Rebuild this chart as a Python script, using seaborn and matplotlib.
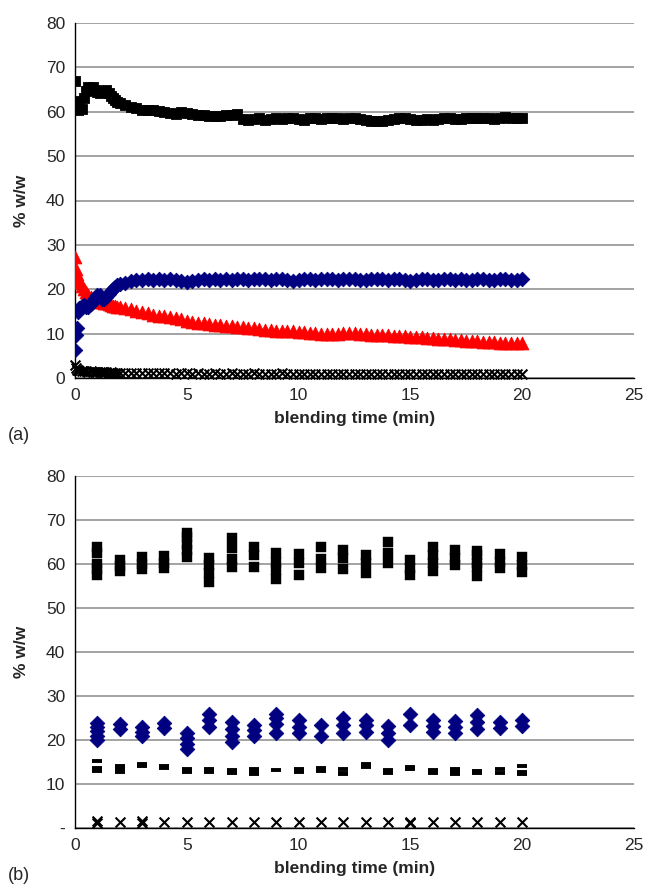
import matplotlib
matplotlib.use("Agg")

import matplotlib.pyplot as plt
import numpy as np
import pandas as pd
import seaborn as sns

# ---- panel (a): continuous monitoring ----
time_a = [0, 0.05, 0.1, 0.15, 0.2, 0.3, 0.4, 0.5, 0.6, 0.7, 0.8, 0.9, 1.0, 1.1, 1.2,
          1.3, 1.4, 1.5, 1.6, 1.7, 1.8, 1.9, 2.0,
          2.25, 2.5, 2.75, 3.0, 3.25, 3.5, 3.75, 4.0, 4.25, 4.5, 4.75, 5.0, 5.25, 5.5,
          5.75, 6.0, 6.25, 6.5, 6.75, 7.0, 7.25, 7.5, 7.75, 8.0, 8.25, 8.5, 8.75, 9.0,
          9.25, 9.5, 9.75, 10.0, 10.25, 10.5, 10.75, 11.0, 11.25, 11.5, 11.75, 12.0,
          12.25, 12.5, 12.75, 13.0, 13.25, 13.5, 13.75, 14.0, 14.25, 14.5, 14.75, 15.0,
          15.25, 15.5, 15.75, 16.0, 16.25, 16.5, 16.75, 17.0, 17.25, 17.5, 17.75, 18.0,
          18.25, 18.5, 18.75, 19.0, 19.25, 19.5, 19.75, 20.0]

square_a = [67.0, 62.5, 61.0, 60.5, 62.0, 60.6, 63.0, 64.6, 65.5, 65.3, 65.5, 65.0, 64.5,
            64.3, 64.6, 64.5, 64.8, 64.2, 63.6, 63.0, 62.6, 62.2, 62.0,
            61.6, 61.1, 60.8, 60.5, 60.3, 60.4, 60.2, 60.0,
            59.7, 59.6, 59.9, 59.7, 59.4, 59.2, 59.3, 59.0,
            59.1, 59.0, 59.3, 59.2, 59.5, 58.4, 58.1, 58.3,
            58.5, 58.2, 58.4, 58.6, 58.3, 58.5, 58.7, 58.4,
            58.2, 58.5, 58.6, 58.4, 58.7, 58.5, 58.6, 58.4,
            58.6, 58.5, 58.3, 58.2, 58.0, 57.9, 58.0, 58.2,
            58.4, 58.6, 58.5, 58.3, 58.2, 58.1, 58.3, 58.2,
            58.4, 58.6, 58.5, 58.3, 58.4, 58.6, 58.5, 58.6,
            58.7, 58.5, 58.4, 58.6, 58.8, 58.7, 58.6, 58.5]

diamond_a = [6.2, 9.8, 11.2, 14.8, 15.8, 16.3, 16.4, 16.0, 16.1, 16.6, 17.3, 18.0, 18.7,
             18.6, 17.8, 17.7, 18.3, 19.0, 19.6, 20.1, 20.5, 20.9, 21.2,
             21.5, 21.8, 22.0, 22.1, 22.2, 22.0, 22.3, 22.1,
             22.2, 22.0, 21.8, 21.7, 21.9, 22.1, 22.2, 22.0,
             22.3, 22.1, 22.2, 22.0, 22.2, 22.3, 22.1, 22.2,
             22.4, 22.2, 22.1, 22.3, 22.2, 22.0, 21.8, 22.0,
             22.2, 22.3, 22.1, 22.2, 22.4, 22.3, 22.1, 22.2,
             22.3, 22.2, 22.0, 22.1, 22.3, 22.4, 22.2, 22.1,
             22.3, 22.2, 22.0, 21.9, 22.1, 22.2, 22.3, 22.1,
             22.0, 22.2, 22.3, 22.1, 22.2, 22.0, 22.1, 22.3,
             22.2, 22.1, 22.0, 22.2, 22.3, 22.1, 22.0, 22.2]

triangle_a = [27.3, 24.5, 23.5, 22.5, 21.5, 20.8, 20.0, 19.3, 18.8, 18.3, 17.9, 17.6, 17.4,
              17.2, 17.1, 17.0, 16.9, 16.7, 16.5, 16.3, 16.2, 16.0, 15.9,
              15.7, 15.5, 15.2, 14.9, 14.6, 14.3, 14.0, 13.9,
              13.7, 13.5, 13.3, 12.8, 12.6, 12.5, 12.3, 12.1,
              12.0, 11.9, 11.8, 11.7, 11.6, 11.5, 11.3, 11.2,
              11.0, 10.9, 10.8, 10.7, 10.6, 10.6, 10.5, 10.4,
              10.3, 10.2, 10.1, 10.0, 10.0, 9.9, 10.0, 10.2,
              10.2, 10.1, 10.0, 9.9, 9.8, 9.7, 9.6, 9.6,
              9.5, 9.5, 9.4, 9.3, 9.3, 9.2, 9.1, 9.0,
              8.9, 8.8, 8.7, 8.6, 8.5, 8.4, 8.3, 8.3,
              8.2, 8.1, 8.1, 8.0, 8.0, 7.9, 8.0, 7.9]

cross_a = [3.0, 2.3, 1.9, 1.7, 1.6, 1.6, 1.5, 1.5, 1.4, 1.5, 1.4, 1.4, 1.3,
           1.4, 1.3, 1.3, 1.3, 1.2, 1.3, 1.2, 1.2, 1.2, 1.2,
           1.2, 1.1, 1.2, 1.1, 1.1, 1.2, 1.1, 1.1,
           1.1, 1.0, 1.1, 1.1, 1.0, 1.1, 1.0, 1.0,
           1.1, 1.0, 1.0, 1.1, 1.0, 1.0, 1.0, 1.1,
           1.0, 1.0, 1.0, 1.0, 1.1, 1.0, 1.0, 1.0,
           1.0, 1.0, 1.0, 1.0, 1.0, 1.0, 1.0, 1.0,
           1.0, 1.0, 1.0, 1.0, 1.0, 1.0, 1.0, 1.0,
           1.0, 1.0, 1.0, 1.0, 1.0, 1.0, 1.0, 1.0,
           1.0, 1.0, 1.0, 1.0, 1.0, 1.0, 1.0, 1.0,
           1.0, 1.0, 1.0, 1.0, 1.0, 1.0, 1.0, 1.0]

# ---- panel (b): thief samples, replicates per minute ----
minutes_b = list(range(1, 21))

square_b = [[63.8, 62.5, 60.0, 58.8, 57.4], [61.0, 59.6, 58.5], [61.6, 59.9, 58.8],
            [61.9, 60.3, 59.0], [67.0, 66.2, 64.6, 63.2, 61.7], [61.3, 59.8, 57.9, 56.0],
            [65.9, 63.6, 61.1, 59.4], [63.8, 62.1, 59.4], [62.4, 60.5, 58.6, 56.5],
            [62.2, 60.2, 57.6], [63.8, 61.1, 59.2], [63.2, 61.3, 58.8], [62.1, 60.2, 57.9],
            [65.0, 62.4, 60.3], [60.8, 59.0, 57.5], [63.8, 62.1, 60.2, 58.4],
            [63.2, 61.3, 59.8], [62.9, 62.0, 60.3, 59.4, 57.3], [62.2, 60.5, 59.2],
            [61.7, 59.8, 58.2]]

diamond_b = [[23.8, 23.0, 22.0, 20.9, 20.0], [23.7, 22.6], [23.0, 21.9, 21.0], [23.9, 22.8],
             [21.6, 20.4, 19.0, 17.9], [25.8, 24.6, 23.0], [24.1, 22.6, 20.9, 19.6],
             [23.4, 22.2, 20.9], [26.0, 24.9, 23.7, 21.5], [24.6, 23.0, 21.5], [23.5, 20.9],
             [24.9, 23.4, 21.7], [24.6, 23.4, 21.9], [23.1, 21.5, 20.0], [26.0, 23.4],
             [24.5, 23.1, 21.8], [24.3, 23.0, 21.5], [25.6, 24.1, 22.4], [24.1, 22.8],
             [24.5, 23.2]]

dash_b = [[15.3, 13.7, 12.9], [14.0, 13.4, 12.8], [14.6, 14.0], [14.0, 13.6], [13.3, 12.7],
          [13.4, 12.7], [13.1, 12.5], [13.4, 12.7, 12.2], [13.1], [13.3, 12.7], [13.7, 12.9],
          [13.4, 12.5, 12.2], [14.6, 13.9], [13.1, 12.4], [13.9, 13.4], [13.1, 12.4],
          [13.4, 12.7, 12.2], [12.9, 12.5], [13.3, 12.5], [14.2, 12.7, 12.2]]

cross_b = [[1.2, 1.5], [1.3], [1.2, 1.5], [1.3], [1.3], [1.3], [1.3], [1.3], [1.3], [1.3],
           [1.3], [1.3], [1.3], [1.3], [1.2, 1.4], [1.3], [1.3], [1.3], [1.3], [1.3]]

NAVY = "#000080"
RED = "#ff0000"
FONT = "Liberation Sans"


def _long(minutes, groups):
    rows = [(m, v) for m, vals in zip(minutes, groups) for v in vals]
    return pd.DataFrame(rows, columns=["t", "v"])


def _style(ax, zero_label):
    ax.set_xlim(0, 25)
    ax.set_ylim(0, 80)
    ax.set_xticks(np.arange(0, 26, 5))
    ax.set_yticks(np.arange(0, 81, 10))
    ax.set_yticklabels([zero_label] + [str(v) for v in range(10, 81, 10)])
    ax.grid(axis="y", color="#8a8a8a", linewidth=1.1)
    ax.grid(axis="x", visible=False)
    ax.set_axisbelow(True)
    for side in ("top", "right"):
        ax.spines[side].set_visible(False)
    for side in ("left", "bottom"):
        ax.spines[side].set_color("black")
        ax.spines[side].set_linewidth(1.0)
    ax.tick_params(axis="both", direction="out", length=4, width=1, color="black",
                   labelsize=12.5, pad=3)
    ax.set_xlabel("blending time (min)", fontsize=12.5, fontweight="bold", labelpad=6)
    ax.set_ylabel("% w/w", fontsize=12.5, fontweight="bold", labelpad=12)


sns.set_theme(style="white")
plt.rcParams["font.family"] = [FONT, "DejaVu Sans"]

fig = plt.figure(figsize=(6.45, 8.91), dpi=100)
ax1 = fig.add_axes([75 / 645, 1 - 378 / 891, 559 / 645, 355 / 891])
ax2 = fig.add_axes([75 / 645, 1 - 828 / 891, 559 / 645, 352 / 891])

df_a = pd.DataFrame({"t": time_a, "sq": square_a, "di": diamond_a,
                     "tri": triangle_a, "x": cross_a})

sns.scatterplot(data=df_a, x="t", y="x", marker="x", color="black", s=50,
                linewidth=1.5, ax=ax1, clip_on=False, zorder=3)
sns.scatterplot(data=df_a, x="t", y="tri", marker="^", color=RED, s=85,
                edgecolor=RED, linewidth=0.6, ax=ax1, zorder=4)
sns.scatterplot(data=df_a, x="t", y="di", marker="D", color=NAVY, s=55,
                edgecolor=NAVY, linewidth=0.6, ax=ax1, zorder=5)
sns.scatterplot(data=df_a, x="t", y="sq", marker="s", color="black", s=58,
                edgecolor="black", linewidth=0.6, ax=ax1, zorder=5)
_style(ax1, "0")

sns.scatterplot(data=_long(minutes_b, cross_b), x="t", y="v", marker="x", color="black",
                s=50, linewidth=1.5, ax=ax2, clip_on=False, zorder=3)
sns.scatterplot(data=_long(minutes_b, dash_b), x="t", y="v", marker="_", color="black",
                s=55, linewidth=2.8, ax=ax2, zorder=4)
sns.scatterplot(data=_long(minutes_b, diamond_b), x="t", y="v", marker="D", color=NAVY,
                s=55, edgecolor=NAVY, linewidth=0.6, ax=ax2, zorder=5)
sns.scatterplot(data=_long(minutes_b, square_b), x="t", y="v", marker="s", color="black",
                s=46, edgecolor="black", linewidth=0.3, ax=ax2, zorder=5)
_style(ax2, "-")

fig.text(8 / 645, 1 - 435 / 891, "(a)", fontsize=13, va="center", ha="left")
fig.text(8 / 645, 1 - 876 / 891, "(b)", fontsize=13, va="center", ha="left")

fig.savefig("out.png", dpi=100)
plt.close(fig)
